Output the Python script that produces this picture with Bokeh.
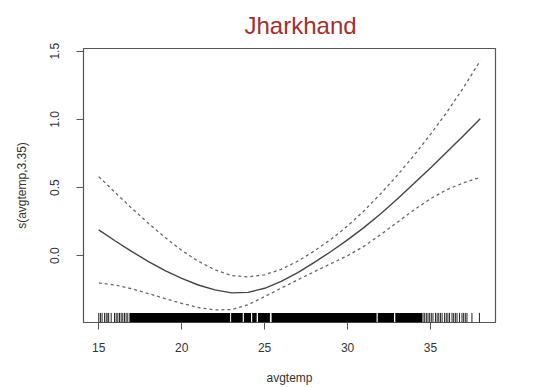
from bokeh.plotting import figure
from bokeh.models import Range1d, FixedTicker, ColumnDataSource, PrintfTickFormatter
from bokeh.embed import file_html
from bokeh.resources import INLINE

# ---- data ----
avgtemp = [15, 16, 17, 18, 19, 20, 21, 22, 23, 24, 25, 26, 27, 28, 29, 30, 31, 32, 33, 34, 35, 36, 37, 38]
fit = [0.19, 0.108, 0.03, -0.043, -0.109, -0.167, -0.215, -0.251, -0.273, -0.269, -0.239, -0.189,
       -0.124, -0.049, 0.031, 0.116, 0.208, 0.308, 0.416, 0.529, 0.644, 0.762, 0.882, 1.004]
upper = [0.58, 0.462, 0.347, 0.237, 0.133, 0.039, -0.041, -0.103, -0.145, -0.155, -0.14, -0.10,
         -0.04, 0.035, 0.12, 0.218, 0.33, 0.455, 0.59, 0.735, 0.89, 1.055, 1.235, 1.43]
lower = [-0.20, -0.215, -0.243, -0.278, -0.315, -0.35, -0.38, -0.398, -0.395, -0.36, -0.30, -0.238,
         -0.177, -0.117, -0.058, 0.0, 0.07, 0.155, 0.245, 0.335, 0.418, 0.485, 0.535, 0.575]

# rug: isolated observations and densely-filled stretches
rug_ticks = [15.0, 15.1, 15.2, 15.35, 15.45, 15.55, 15.6, 15.75, 15.95, 16.05, 16.15, 16.25,
             16.35, 16.45, 16.55, 16.65, 16.75,
             34.55, 34.65, 34.75, 34.85, 34.95, 35.05, 35.15, 35.3, 35.4, 35.5, 35.6, 35.7,
             35.85, 35.95, 36.05, 36.15, 36.3, 36.4, 36.5, 36.6, 36.75, 36.9, 37.0, 37.1,
             37.2, 37.5, 37.95]
rug_band_start = [16.85, 22.98, 23.75, 24.25, 24.6, 25.42, 31.82, 32.88]
rug_band_end = [22.92, 23.68, 24.18, 24.52, 25.32, 31.75, 32.8, 34.5]

x_ticks = [15, 20, 25, 30, 35]
y_ticks = [0.0, 0.5, 1.0, 1.5]

title_text = "Jharkhand"
x_label = "avgtemp"
y_label = "s(avgtemp,3.35)"

# ---- figure ----
p = figure(width=539, height=387, output_backend="svg", toolbar_location=None,
           x_range=Range1d(14.08, 38.92), y_range=Range1d(-0.49, 1.52),
           min_border_left=83, min_border_right=44, min_border_top=47, min_border_bottom=54,
           background_fill_color="white", border_fill_color="white")

p.title.text = title_text
p.title.align = "left"
p.title.offset = 161
p.title.text_font = "Liberation Sans"
p.title.text_font_size = "24px"
p.title.text_font_style = "normal"
p.title.text_color = "#A0302E"
p.title.standoff = 19

p.xgrid.visible = False
p.ygrid.visible = False
p.outline_line_color = "#555555"
p.outline_line_width = 1.2

for ax in (p.xaxis[0], p.yaxis[0]):
    ax.axis_line_color = None
    ax.major_tick_line_color = "#555555"
    ax.major_tick_in = 0
    ax.major_tick_out = 7
    ax.minor_tick_line_color = None
    ax.major_label_text_font = "Liberation Sans"
    ax.major_label_text_font_size = "12px"
    ax.major_label_text_color = "#333333"
    ax.axis_label_text_font_style = "normal"
    ax.axis_label_text_color = "#333333"

p.xaxis.ticker = FixedTicker(ticks=x_ticks)
p.xaxis.major_label_standoff = 13
p.xaxis.axis_label = x_label
p.xaxis.axis_label_text_font = "Liberation Sans"
p.xaxis.axis_label_text_font_size = "12px"
p.xaxis.axis_label_standoff = 16

p.yaxis.ticker = FixedTicker(ticks=y_ticks)
p.yaxis.formatter = PrintfTickFormatter(format="%.1f")
p.yaxis.major_label_orientation = "vertical"
p.yaxis.major_label_standoff = 17
p.yaxis.axis_label = y_label
p.yaxis.axis_label_text_font = "Liberation Sans"
p.yaxis.axis_label_text_font_size = "12px"
p.yaxis.axis_label_standoff = 19

# curves
src = ColumnDataSource(dict(x=avgtemp, fit=fit, upper=upper, lower=lower))
p.line("x", "upper", source=src, line_color="#666666", line_width=1.3, line_dash="3 3")
p.line("x", "lower", source=src, line_color="#666666", line_width=1.3, line_dash="3 3")
p.line("x", "fit", source=src, line_color="#444444", line_width=1.4)

# rug
y0 = p.y_range.start
rug_h = (p.y_range.end - p.y_range.start) * 0.035
p.segment(x0=rug_ticks, x1=rug_ticks, y0=[y0] * len(rug_ticks), y1=[y0 + rug_h] * len(rug_ticks),
          line_color="#222222", line_width=1)
p.quad(left=rug_band_start, right=rug_band_end, bottom=[y0] * len(rug_band_start),
       top=[y0 + rug_h] * len(rug_band_start), fill_color="black", line_color=None)

open("out.html", "w").write(file_html(p, INLINE))
